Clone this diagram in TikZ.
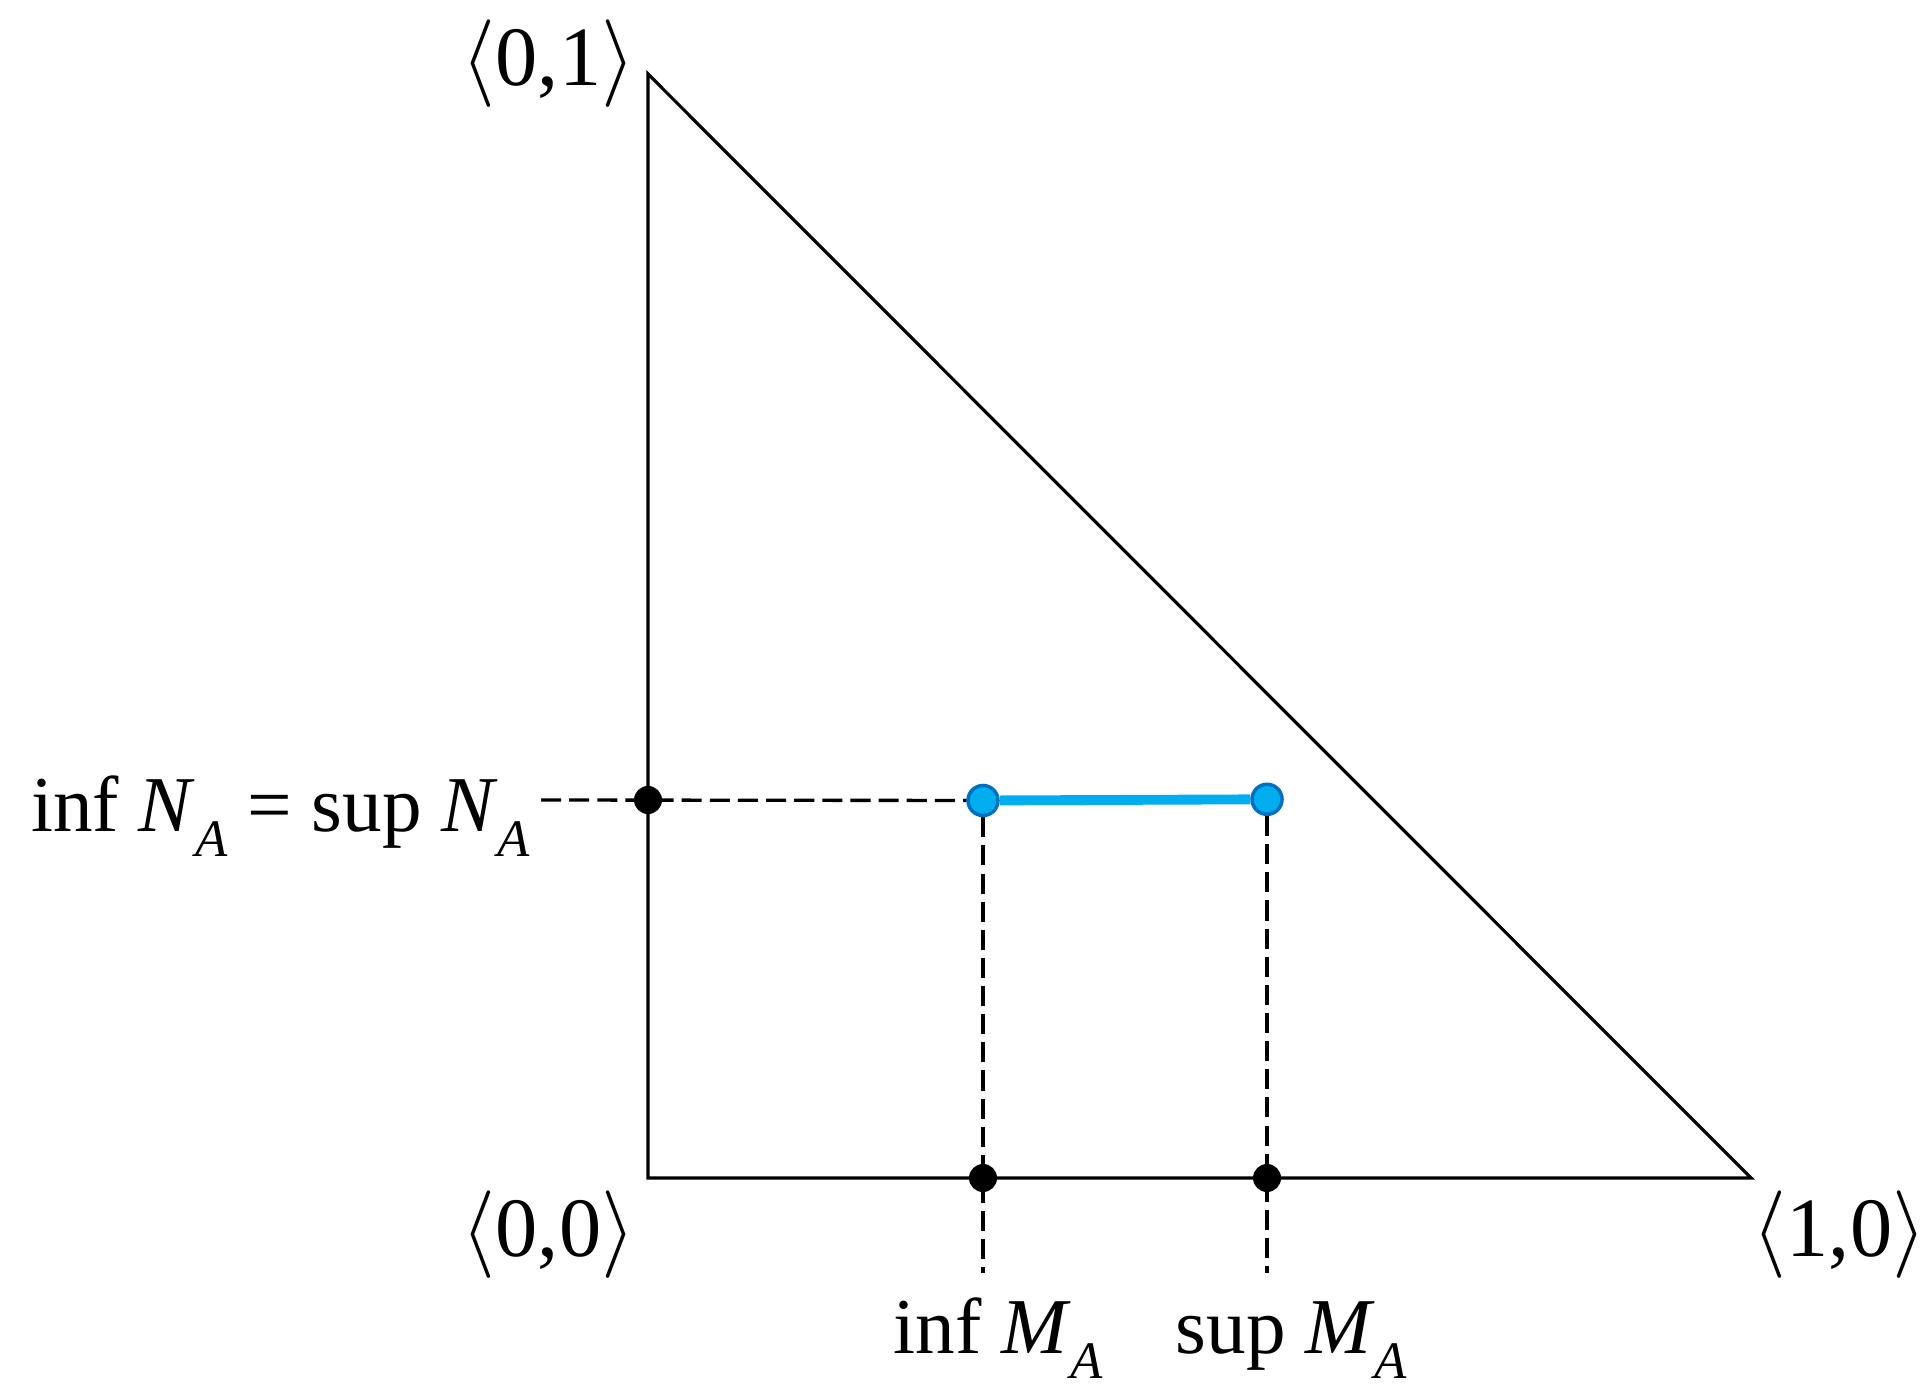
\documentclass[tikz,border=0pt]{standalone}
\usepackage{fontspec}
\setmainfont{Liberation Serif}
\newcommand{\lowA}{\raisebox{-0.32em}{\fontsize{15}{17}\selectfont\textit{A}}}
\definecolor{segblue}{RGB}{0,174,239}
\definecolor{rimblue}{RGB}{0,112,192}

\begin{document}
\begin{tikzpicture}[x = 0.01cm, y = -0.01cm, font = \fontsize{22.5}{27}\selectfont,
    edge/.style = {line width=0.9pt},
    guide/.style = {line width=0.95pt, dash pattern=on 5.7pt off 2.3pt},
    dot/.style = {circle, fill=black, inner sep=0pt, minimum size=0.28cm},
    bluedot/.style = {circle, fill=segblue, draw=rimblue, line width=1pt, inner sep=0pt, minimum size=0.3cm},
    lbl/.style = {inner sep=0pt},
    corner/.style = {inner sep=0pt, font=\fontsize{24}{28}\selectfont}]

    \useasboundingbox (0,0) rectangle (1928,1398);

    % triangle
    \coordinate (O) at (648,1178);
    \coordinate (Y) at (648,74);
    \coordinate (X) at (1751,1178);
    \draw[edge] (Y) -- (O) -- (X) -- cycle;

    % corner labels
    \node[corner, anchor=east] (l01) at (636,64) {$\langle$0,1$\rangle$};
    \node[corner, anchor=east] (l00) at (636,1235) {$\langle$0,0$\rangle$};
    \node[corner, anchor=west] (l10) at (1752,1235) {$\langle$1,0$\rangle$};

    % points
    \node[dot] (nlo) at (648,800) {};
    \node[dot] (mlo) at (983,1178) {};
    \node[dot] (mhi) at (1267,1178) {};
    \node[bluedot] (lo) at (983,800.5) {};
    \node[bluedot] (hi) at (1267,799.3) {};

    % guides
    \coordinate (hstart) at (541,800);
    \coordinate (loend) at (983,1273);
    \coordinate (hiend) at (1267,1273);
    \draw[guide] (hstart) -- (lo);
    \draw[guide] (lo) -- (loend);
    \draw[guide] (hi) -- (hiend);

    % segment
    \draw[segblue, line width=2.8pt] (lo) -- (hi);

    % axis labels
    \node[lbl, anchor=base east] (nlab) at (531,831) {inf \textit{N}\lowA{} = sup \textit{N}\lowA};
    \node[lbl, anchor=base west] (inflab) at (893,1353) {inf \textit{M}\lowA};
    \node[lbl, anchor=base west] (suplab) at (1175,1353) {sup \textit{M}\lowA};

\end{tikzpicture}
\end{document}
